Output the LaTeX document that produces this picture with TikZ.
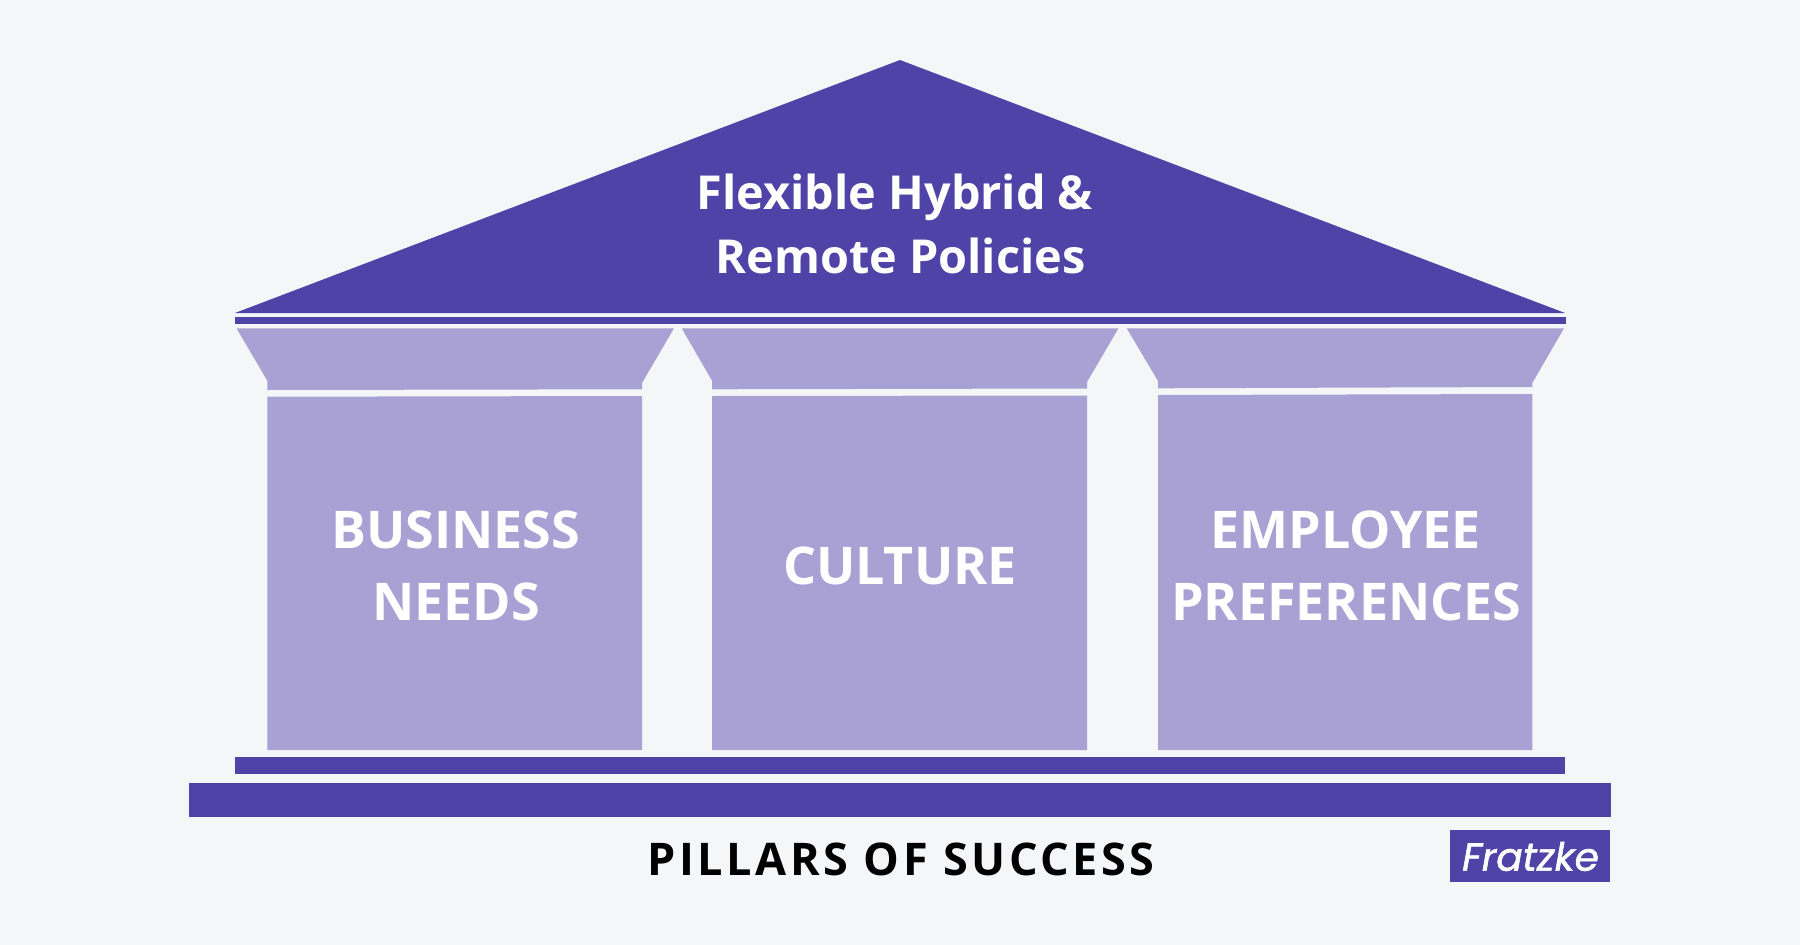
\documentclass[tikz,border=0pt]{standalone}
\usepackage{fontspec}
\setmainfont{Open Sans}
\newfontfamily\spacedfont[LetterSpace=8]{Open Sans}
\newfontfamily\logofont[ItalicFeatures={FakeBold=1.4}]{Poppins}
\definecolor{bgc}{HTML}{F5F6F8}
\definecolor{deep}{HTML}{5043A8}
\definecolor{soft}{HTML}{A9A1D4}
\tikzset{
  deepfill/.style={fill=deep,draw=none},
  softfill/.style={fill=soft,draw=none},
  roofline/.style={anchor=base,text=white,font=\fontsize{46.8pt}{46.8pt}\selectfont\bfseries,inner sep=0pt},
  pillartext/.style={anchor=base,text=white,font=\fontsize{52pt}{52pt}\selectfont\bfseries,inner sep=0pt},
  captext/.style={anchor=base,text=black,font=\spacedfont\fontsize{45pt}{45pt}\selectfont\bfseries,inner sep=0pt},
}
\begin{document}
\begin{tikzpicture}[x=1pt,y=-1pt]
\path[use as bounding box,fill=bgc] (0,0) rectangle (1800,945);
% roof
\fill[deepfill] (900,60) -- (1565,313) -- (235,313) -- cycle;
\fill[deepfill] (235,317.3) rectangle (1566,324.3);
% capitals
\fill[softfill] (236.5,328.3) -- (674,328.3) -- (642,383) -- (642,389.3) -- (267.3,390) -- (267.3,380.7) -- cycle;
\fill[softfill] (681.7,328.3) -- (1118.5,328.3) -- (1087,382) -- (1087,388.5) -- (712,389.3) -- (712,380.7) -- cycle;
\fill[softfill] (1126.7,328.3) -- (1564,328.3) -- (1532.3,383) -- (1532.3,387) -- (1158,388.3) -- (1158,381) -- cycle;
% shafts
\fill[softfill] (267.3,396.7) -- (642,396) -- (642,750) -- (267.3,750) -- cycle;
\fill[softfill] (712,396) -- (1087,395.5) -- (1087,750) -- (712,750) -- cycle;
\fill[softfill] (1158,395) -- (1532.3,394) -- (1532.3,750) -- (1158,750) -- cycle;
% base
\fill[deepfill] (235,757) rectangle (1565.3,774.3);
\fill[deepfill] (189,783.3) rectangle (1611,816.7);
\fill[deepfill] (1450,830) rectangle (1610.3,881.7);
% texts
\node[roofline] (r1) at (895,209.6) {Flexible Hybrid \&};
\node[roofline] (r2) at (900.6,273.6) {Remote Policies};
\node[pillartext] (b1) at (455.6,548.6) {BUSINESS};
\node[pillartext] (b2) at (456,620.6) {NEEDS};
\node[pillartext] (c1) at (900,584.6) {CULTURE};
\node[pillartext] (e1) at (1345.6,548.6) {EMPLOYEE};
\node[pillartext] (e2) at (1346.4,620.6) {PREFERENCES};
\node[captext] (cap) at (901,875) {PILLARS OF SUCCESS};
\node[anchor=base,text=white,inner sep=0pt,font=\logofont\fontsize{39pt}{39pt}\selectfont\itshape] (logo) at (1530.5,870.7) {Fratzke};
\end{tikzpicture}
\end{document}
